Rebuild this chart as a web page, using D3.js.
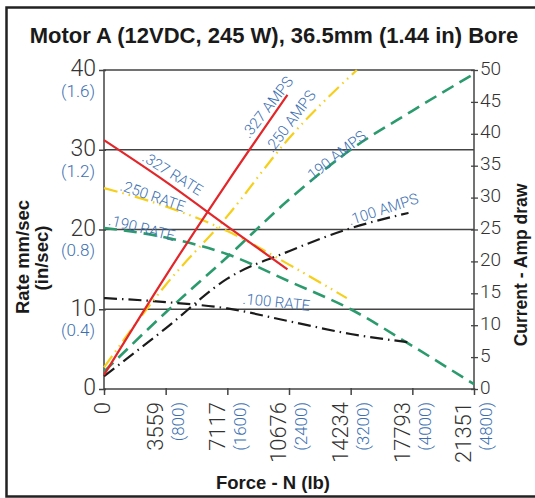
<!DOCTYPE html>
<html>
<head>
<meta charset="utf-8">
<script src="https://cdn.jsdelivr.net/npm/d3@7"></script>
<style>
  body { margin: 0; background: #fff; }
  svg { display: block; }
</style>
</head>
<body>
<div id="chart"></div>
<script>
// force in lb along x, rate in mm/sec (left), current in amps (right)
const forceTicksLb = [0, 800, 1600, 2400, 3200, 4000, 4800]
const forceTicksN = ["0", "3559", "7117", "10676", "14234", "17793", "21351"]
const rateTicks = [0, 10, 20, 30, 40]
const rateTicksIn = ["", "(0.4)", "(0.8)", "(1.2)", "(1.6)"]
const ampTicks = [0, 5, 10, 15, 20, 25, 30, 35, 40, 45, 50]

const rate327Force = [0, 800, 1600, 2380]
const rate327 = [31.2, 26.0, 20.4, 15.0]
const amps327Force = [0, 800, 1600, 2380]
const amps327 = [2.2, 17.7, 32.4, 46.1]

const rate250Force = [0, 800, 1600, 2400, 3150]
const rate250 = [25.2, 22.9, 19.8, 15.6, 11.4]
const amps250Force = [0, 800, 1600, 2400, 3280]
const amps250 = [3.4, 16.3, 27.1, 39.3, 50.0]

const rate190Force = [0, 800, 1600, 2400, 3200, 4000, 4800]
const rate190 = [20.2, 19.0, 16.9, 13.5, 10.0, 5.4, 0.6]
const amps190Force = [0, 800, 1600, 2400, 3200, 4000, 4800]
const amps190 = [2.7, 12.0, 20.7, 29.7, 37.5, 43.6, 49.4]

const rate100Force = [0, 800, 1600, 2400, 3200, 4000]
const rate100 = [11.4, 10.9, 10.1, 8.5, 6.9, 5.8]
const amps100Force = [0, 800, 1600, 2400, 3200, 3950]
const amps100 = [2.0, 9.5, 17.3, 21.6, 25.2, 27.6]

// label anchors in data units (lb, value on its own axis), angle in degrees
const curveLabels = [
	{text: ".327 AMPS", axis: "amp", force: 2122, value: 44.2, angle: -52},
	{text: ".250 AMPS", axis: "amp", force: 2419, value: 42.0, angle: -53},
	{text: ".190 AMPS", axis: "amp", force: 3002, value: 36.5, angle: -38},
	{text: ".100 AMPS", axis: "amp", force: 3623, value: 28.2, angle: -18},
	{text: ".327 RATE", axis: "rate", force: 893, value: 27.0, angle: 32},
	{text: ".250 RATE", axis: "rate", force: 634, value: 24.2, angle: 19},
	{text: ".190 RATE", axis: "rate", force: 492, value: 20.2, angle: 14},
	{text: ".100 RATE", axis: "rate", force: 2238, value: 10.9, angle: 6}
]

const width = 535
const height = 498
const margin = ({top: 70, right: 60, bottom: 109, left: 104})

const blue = "#3b6fb1"
const light = "Roboto, 'Liberation Sans', sans-serif"
const bold = "'Liberation Sans', Arial, sans-serif"

const styles = {
	red: {stroke: "#e2262a", width: 2.2, dash: null},
	yellow: {stroke: "#f6cf1a", width: 2.2, dash: "14,5,1.5,5,1.5,5"},
	green: {stroke: "#2b9b6d", width: 2.6, dash: "13,7"},
	black: {stroke: "#1b1b1b", width: 2.2, dash: "13,5,1.5,5"}
}

const series = [
	{force: rate190Force, values: rate190, axis: "rate", style: styles.green},
	{force: amps190Force, values: amps190, axis: "amp", style: styles.green},
	{force: rate100Force, values: rate100, axis: "rate", style: styles.black},
	{force: amps100Force, values: amps100, axis: "amp", style: styles.black},
	{force: rate250Force, values: rate250, axis: "rate", style: styles.yellow},
	{force: amps250Force, values: amps250, axis: "amp", style: styles.yellow},
	{force: rate327Force, values: rate327, axis: "rate", style: styles.red},
	{force: amps327Force, values: amps327, axis: "amp", style: styles.red}
]

const svg = d3.select("#chart")
	.append("svg")
		.attr("width", width)
		.attr("height", height)

const x = d3.scaleLinear()
	.domain([0, 4800])
	.range([margin.left, width - margin.right - 1])

const yRate = d3.scaleLinear()
	.domain([0, 40])
	.range([height - margin.bottom, margin.top])

const yAmp = d3.scaleLinear()
	.domain([0, 50])
	.range([height - margin.bottom, margin.top])

const x0 = x.range()[0], x1 = x.range()[1]
const yb = yRate.range()[0], yt = yRate.range()[1]

// outer frame (top, left, bottom)
svg.append("path")
	.attr("fill", "none")
	.attr("stroke", "#222")
	.attr("stroke-width", 2.5)
	.attr("d", `M${width},7.5H6.5V496.5H${width}`)

svg.append("text")
	.attr("x", 274)
	.attr("y", 43)
	.attr("text-anchor", "middle")
	.style("font", `bold 22px ${bold}`)
	.attr("fill", "#1a1a1a")
	.text("Motor A (12VDC, 245 W), 36.5mm (1.44 in) Bore")

// grid lines at rate ticks
svg.append("g")
	.selectAll("line")
	.data(rateTicks.filter(d => d > 0 && d < 40))
	.join("line")
		.attr("x1", x0).attr("x2", x1)
		.attr("y1", d => yRate(d)).attr("y2", d => yRate(d))
		.attr("stroke", "#444")
		.attr("stroke-width", 1.5)

// plot box
svg.append("rect")
	.attr("x", x0).attr("y", yt)
	.attr("width", x1 - x0).attr("height", yb - yt)
	.attr("fill", "none")
	.attr("stroke", "#444")
	.attr("stroke-width", 1.5)

// left axis
const leftAxis = svg.append("g")
	.attr("transform", `translate(${x0},0)`)
	.call(d3.axisLeft(yRate).tickValues(rateTicks).tickSize(5).tickSizeOuter(0))
leftAxis.select(".domain").remove()
leftAxis.selectAll(".tick line").attr("stroke", "#444").attr("stroke-width", 1.5).attr("x2", -5).attr("x1", 2)
leftAxis.selectAll(".tick text")
	.attr("x", -8)
	.attr("dy", "0.26em")
	.attr("fill", "#333")
	.style("font", `300 23px ${light}`)
leftAxis.selectAll(".tick")
	.append("text")
		.attr("x", -9)
		.attr("y", 21)
		.attr("dy", "0.32em")
		.attr("text-anchor", "end")
		.attr("fill", blue)
		.style("font", `300 17px ${light}`)
		.text((d, i) => rateTicksIn[i])

// right axis
const rightAxis = svg.append("g")
	.attr("transform", `translate(${x1},0)`)
	.call(d3.axisRight(yAmp).tickValues(ampTicks).tickSize(4).tickSizeOuter(0))
rightAxis.select(".domain").remove()
rightAxis.selectAll(".tick line").attr("stroke", "#444").attr("stroke-width", 1.3).attr("x1", -3)
rightAxis.selectAll(".tick text")
	.attr("x", 6)
	.attr("dy", "0.22em")
	.attr("fill", "#333")
	.style("font", `300 19px ${light}`)

// bottom axis
const bottomAxis = svg.append("g")
	.attr("transform", `translate(0,${yb})`)
	.call(d3.axisBottom(x).tickValues(forceTicksLb).tickSize(6).tickSizeOuter(0).tickFormat(""))
bottomAxis.select(".domain").remove()
bottomAxis.selectAll(".tick line").attr("stroke", "#444").attr("stroke-width", 1.5).attr("y1", -1)
bottomAxis.selectAll(".tick text").remove()
bottomAxis.selectAll(".tick")
	.append("text")
		.attr("transform", d => `translate(${d == 0 ? -2 : -11},13) rotate(-90)`)
		.attr("dy", "0.35em")
		.attr("text-anchor", "end")
		.attr("fill", "#333")
		.style("font", `300 22px ${light}`)
		.text((d, i) => forceTicksN[i])
bottomAxis.selectAll(".tick")
	.filter(d => d > 0)
	.append("text")
		.attr("transform", `translate(12,13) rotate(-90)`)
		.attr("dy", "0.35em")
		.attr("text-anchor", "end")
		.attr("fill", blue)
		.style("font", `300 17px ${light}`)
		.text(d => "(" + d + ")")

// axis titles
svg.append("text")
	.attr("transform", "translate(23,257) rotate(-90)")
	.attr("dy", "0.35em")
	.attr("text-anchor", "middle")
	.style("font", `bold 18.5px ${bold}`)
	.attr("fill", "#1a1a1a")
	.text("Rate mm/sec")
svg.append("text")
	.attr("transform", "translate(42,258) rotate(-90)")
	.attr("dy", "0.35em")
	.attr("text-anchor", "middle")
	.style("font", `bold 18.5px ${bold}`)
	.attr("fill", "#1a1a1a")
	.text("(in/sec)")
svg.append("text")
	.attr("transform", "translate(521,265) rotate(-90)")
	.attr("dy", "0.35em")
	.attr("text-anchor", "middle")
	.style("font", `bold 17.5px ${bold}`)
	.attr("fill", "#1a1a1a")
	.text("Current - Amp draw")
svg.append("text")
	.attr("x", 273)
	.attr("y", 489)
	.attr("text-anchor", "middle")
	.style("font", `bold 18.5px ${bold}`)
	.attr("fill", "#1a1a1a")
	.text("Force - N (lb)")

// curves
const line = (s) => d3.line()
	.x((d, i) => x(s.force[i]))
	.y(d => (s.axis == "rate" ? yRate : yAmp)(d))
	.curve(d3.curveMonotoneX)

svg.append("g")
	.attr("fill", "none")
	.selectAll("path")
	.data(series)
	.join("path")
		.attr("stroke", d => d.style.stroke)
		.attr("stroke-width", d => d.style.width)
		.attr("stroke-dasharray", d => d.style.dash)
		.attr("d", d => line(d)(d.values))

// curve labels
svg.append("g")
	.selectAll("text")
	.data(curveLabels)
	.join("text")
		.attr("transform", d => `translate(${x(d.force)},${(d.axis == "rate" ? yRate : yAmp)(d.value)}) rotate(${d.angle})`)
		.attr("dy", "0.35em")
		.attr("text-anchor", "middle")
		.attr("fill", blue)
		.style("font", `300 15px ${light}`)
		.text(d => d.text)
</script>
</body>
</html>
